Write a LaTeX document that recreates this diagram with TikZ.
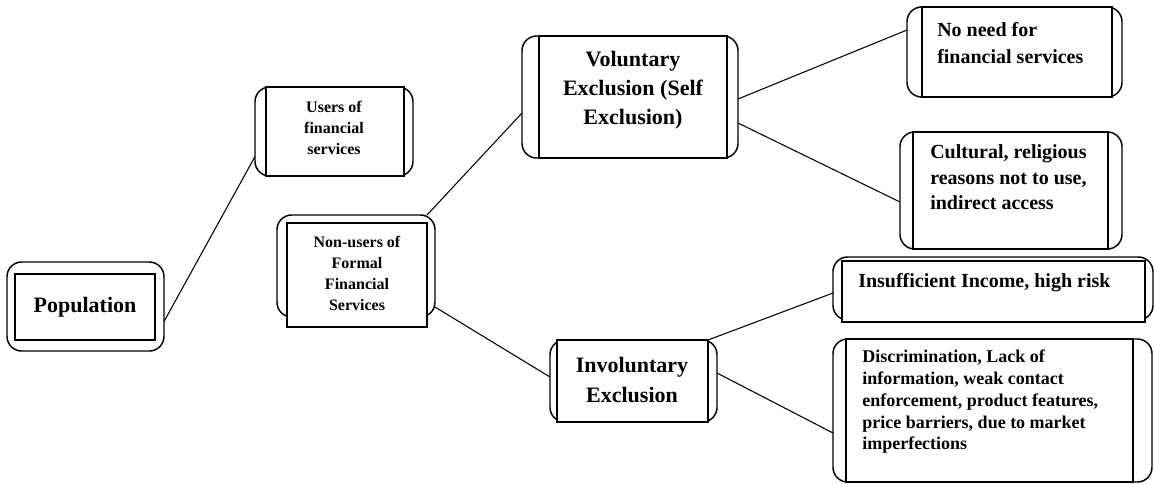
\documentclass[tikz,border=0pt]{standalone}
\usepackage{fontspec}
\setmainfont{Liberation Serif}
\usetikzlibrary{calc}
\tikzset{
  outerbox/.style={draw, rounded corners=11pt, line width=1.1pt, inner sep=0pt, outer sep=0pt},
  innerbox/.style={draw, line width=0.9pt},
  conn/.style={draw, line width=0.8pt},
  lbl/.style={inner sep=0pt, font=\bfseries}
}
\begin{document}
\begin{tikzpicture}[x=0.75pt, y=-0.75pt]
\useasboundingbox (0,0) rectangle (1154,483);

% outer rounded boxes
\node[outerbox, minimum width=117.75pt, minimum height=66.75pt] (pop) at (85.5,306.5) {};
\node[outerbox, minimum width=118.5pt, minimum height=66.75pt] (users) at (334,131.5) {};
\node[outerbox, minimum width=118.5pt, minimum height=76.5pt] (nonusers) at (356,266) {};
\node[outerbox, minimum width=162pt, minimum height=91.5pt] (vol) at (630,97) {};
\node[outerbox, minimum width=125.25pt, minimum height=61.5pt] (invol) at (633.5,381) {};
\node[outerbox, minimum width=161.25pt, minimum height=67.5pt] (noneed) at (1014.5,52) {};
\node[outerbox, minimum width=166.5pt, minimum height=87.75pt] (cult) at (1011,190.5) {};
\node[outerbox, minimum width=240pt, minimum height=47.25pt] (insuf) at (993,288.5) {};
\node[outerbox, minimum width=239.25pt, minimum height=107.25pt] (disc) at (992.5,410.5) {};

% inner rectangles
\path[innerbox, fill=white] (15,274) rectangle (155,340);
\path[innerbox, fill=white] (266,87) rectangle (404,176);
\path[innerbox, fill=white] (287,223) rectangle (427,327);
\path[innerbox, fill=white] (539,36) rectangle (727,158);
\path[innerbox, fill=white] (557,340) rectangle (708,422);
\path[innerbox, fill=white] (922,7) rectangle (1112,97);
\path[innerbox, fill=white] (913,132) rectangle (1108,249);
\path[innerbox, fill=white] (842,261) rectangle (1145,322);
\path[innerbox, fill=white] (846,339) rectangle (1133,482);

% texts
\node[lbl, font=\bfseries\fontsize{16.5}{21}\selectfont] (popT) at (85,307) {Population};
\node[lbl, align=center, font=\bfseries\fontsize{12}{15.75}\selectfont] (usersT) at (334,128) {Users of\\financial\\services};
\node[lbl, align=center, font=\bfseries\fontsize{12}{15.75}\selectfont] (nonusersT) at (357,273.5) {Non-users of\\Formal\\Financial\\Services};
\node[lbl, align=center, font=\bfseries\fontsize{16.5}{21.75}\selectfont] (volT) at (633,90.5) {Voluntary\\Exclusion (Self\\Exclusion)};
\node[lbl, align=center, font=\bfseries\fontsize{16.5}{22.5}\selectfont] (involT) at (632,379.5) {Involuntary\\Exclusion};
\node[lbl, align=left, anchor=west, font=\bfseries\fontsize{15}{20.25}\selectfont] (noneedT) at (937,43.5) {No need for\\financial services};
\node[lbl, align=left, anchor=west, font=\bfseries\fontsize{15}{19.1}\selectfont] (cultT) at (930,177.5) {Cultural, religious\\reasons not to use,\\indirect access};
\node[lbl, align=left, anchor=west, font=\bfseries\fontsize{15}{19}\selectfont] (insufT) at (858,283) {Insufficient Income, high risk};
\node[lbl, align=left, anchor=west, font=\bfseries\fontsize{13.5}{16.3}\selectfont] (discT) at (862,402) {Discrimination, Lack of\\information, weak contact\\enforcement, product features,\\price barriers, due to market\\imperfections};

% connectors
\draw[conn] ($(pop.east)+(0,15)$) -- ($(users.west)+(0,25)$);
\draw[conn] ($(nonusers.north east)+(-8,0)$) -- ($(vol.west)+(0,16)$);
\draw[conn] ($(nonusers.east)+(0,41)$) -- ($(invol.west)+(0,-4)$);
\draw[conn] ($(vol.east)+(0,2)$) -- ($(noneed.west)+(0,-22)$);
\draw[conn] ($(vol.east)+(0,26)$) -- ($(cult.west)+(0,11.5)$);
\draw[conn] ($(invol.north east)+(-9,0)$) -- ($(insuf.west)+(0,4.5)$);
\draw[conn] ($(invol.east)+(0,-8)$) -- ($(disc.west)+(0,22.5)$);
\end{tikzpicture}
\end{document}
